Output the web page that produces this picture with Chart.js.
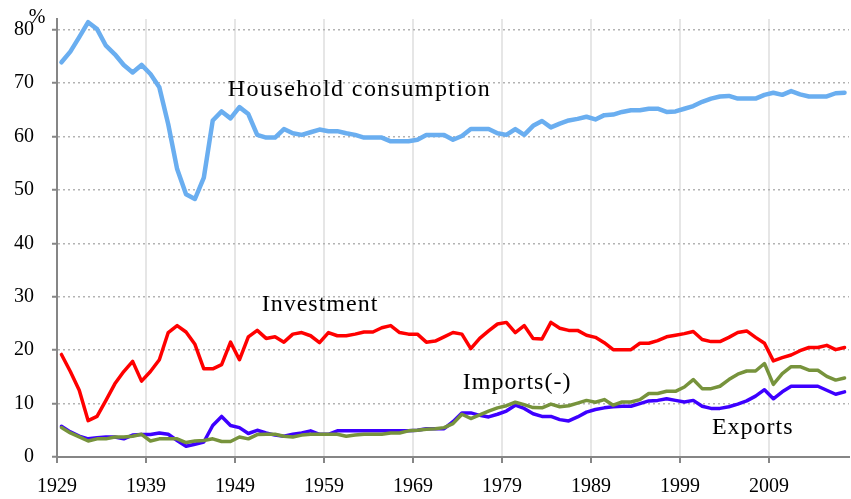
<!DOCTYPE html>
<html>
<head>
<meta charset="utf-8">
<script src="https://cdn.jsdelivr.net/npm/chart.js@4.4.1/dist/chart.umd.min.js"></script>
<style>
  html, body { margin: 0; padding: 0; background: #fff; }
  #wrap { width: 851px; height: 499px; position: relative; }
</style>
</head>
<body>
<div id="wrap"><canvas id="chart"></canvas></div>
<script>
// Years 1929..2017 (one value per year)
const years = Array.from({ length: 89 }, (_, i) => 1929 + i);
const tickYears = [1929, 1939, 1949, 1959, 1969, 1979, 1989, 1999, 2009];
const yTicks = [0, 10, 20, 30, 40, 50, 60, 70, 80];

// Shares of GDP, %
const household = [
  73.9, 75.9, 78.6, 81.4, 80.1, 77.0, 75.4, 73.4, 72.0, 73.4,
  71.7, 69.2, 62.3, 53.9, 49.2, 48.3, 52.3, 63.0, 64.7, 63.4,
  65.5, 64.2, 60.3, 59.8, 59.8, 61.4, 60.6, 60.3, 60.8, 61.3,
  61.0, 61.0, 60.6, 60.3, 59.8, 59.8, 59.8, 59.1, 59.1, 59.1,
  59.4, 60.3, 60.3, 60.3, 59.4, 60.1, 61.4, 61.4, 61.4, 60.6,
  60.3, 61.4, 60.3, 62.0, 62.9, 61.7, 62.4, 63.0, 63.3, 63.7,
  63.2, 64.0, 64.1, 64.6, 64.9, 64.9, 65.2, 65.2, 64.6, 64.7,
  65.2, 65.7, 66.5, 67.1, 67.5, 67.6, 67.1, 67.1, 67.1, 67.8,
  68.2, 67.8, 68.5, 67.9, 67.5, 67.5, 67.5, 68.1, 68.2
];
const investment = [
  19.2, 16.0, 12.5, 6.8, 7.6, 10.6, 13.7, 16.0, 17.9, 14.2,
  16.0, 18.2, 23.3, 24.6, 23.4, 21.1, 16.5, 16.5, 17.3, 21.5,
  18.2, 22.5, 23.7, 22.2, 22.5, 21.5, 23.0, 23.3, 22.7, 21.4,
  23.3, 22.7, 22.7, 23.0, 23.4, 23.4, 24.2, 24.6, 23.3, 23.0,
  23.0, 21.5, 21.7, 22.5, 23.3, 23.0, 20.3, 22.2, 23.6, 24.9,
  25.2, 23.3, 24.6, 22.2, 22.1, 25.2, 24.1, 23.7, 23.7, 22.8,
  22.4, 21.4, 20.1, 20.1, 20.1, 21.3, 21.3, 21.8, 22.5, 22.8,
  23.1, 23.5, 22.0, 21.6, 21.6, 22.4, 23.3, 23.6, 22.4, 21.3,
  18.0, 18.6, 19.1, 19.9, 20.5, 20.5, 20.9, 20.1, 20.5
];
const exportsShare = [
  5.75, 4.7, 3.9, 3.4, 3.6, 3.75, 3.75, 3.4, 4.1, 4.2,
  4.2, 4.5, 4.25, 3.1, 2.0, 2.4, 2.8, 5.9, 7.6, 5.9,
  5.5, 4.4, 5.0, 4.5, 4.1, 3.9, 4.25, 4.5, 4.9, 4.25,
  4.25, 4.9, 4.9, 4.9, 4.9, 4.9, 4.9, 4.9, 4.9, 4.9,
  5.0, 5.3, 5.3, 5.3, 6.6, 8.25, 8.25, 7.8, 7.5, 8.0,
  8.6, 9.7, 9.1, 8.1, 7.6, 7.6, 7.0, 6.75, 7.5, 8.4,
  8.9, 9.2, 9.4, 9.5, 9.5, 10.0, 10.5, 10.6, 10.9, 10.6,
  10.3, 10.6, 9.5, 9.1, 9.1, 9.4, 9.9, 10.5, 11.4, 12.6,
  10.9, 12.2, 13.25, 13.25, 13.25, 13.25, 12.5, 11.75, 12.2
];
const importsShare = [
  5.5, 4.5, 3.75, 3.0, 3.4, 3.4, 3.75, 3.75, 3.9, 4.25,
  3.0, 3.4, 3.4, 3.4, 2.7, 3.0, 3.1, 3.4, 2.9, 2.9,
  3.75, 3.4, 4.2, 4.25, 4.25, 3.9, 3.75, 4.1, 4.25, 4.25,
  4.25, 4.25, 3.9, 4.1, 4.25, 4.25, 4.25, 4.5, 4.5, 4.9,
  5.0, 5.2, 5.3, 5.5, 6.25, 8.0, 7.2, 7.9, 8.6, 9.2,
  9.6, 10.25, 9.8, 9.25, 9.2, 9.9, 9.4, 9.6, 10.1, 10.6,
  10.25, 10.75, 9.7, 10.3, 10.3, 10.75, 11.9, 11.9, 12.3, 12.3,
  13.1, 14.5, 12.8, 12.8, 13.25, 14.5, 15.5, 16.1, 16.1, 17.5,
  13.6, 15.6, 16.9, 16.9, 16.25, 16.25, 15.1, 14.4, 14.8
];

const seriesNames = ['Household consumption', 'Investment', 'Imports(-)', 'Exports'];

const SERIF = "'Liberation Serif', 'Times New Roman', serif";
const AXIS_GREY = '#868686';

// annual values sit mid-year, between the year ticks
const toPoints = vals => vals.map((v, i) => ({ x: years[i] + 0.5, y: v }));

// text labels placed next to their lines (anchored in data units)
const labelPlugin = {
  id: 'seriesLabels',
  afterDatasetsDraw(chart) {
    const { ctx, scales: { x, y } } = chart;
    const anchors = [
      { text: seriesNames[0], at: [1948.2, 68.8], ls: '1.4px' },
      { text: seriesNames[1], at: [1952.0, 28.5], ls: '1px' },
      { text: seriesNames[2], at: [1974.6, 14.0], ls: '1px' },
      { text: seriesNames[3], at: [2002.6, 5.4], ls: '1px' },
    ];
    ctx.save();
    ctx.fillStyle = '#000';
    ctx.textBaseline = 'middle';
    ctx.textAlign = 'left';
    ctx.font = '24px ' + SERIF;
    anchors.forEach(a => {
      if ('letterSpacing' in ctx) ctx.letterSpacing = a.ls;
      ctx.fillText(a.text, x.getPixelForValue(a.at[0]), y.getPixelForValue(a.at[1]));
    });
    if ('letterSpacing' in ctx) ctx.letterSpacing = '0px';
    ctx.font = '20px ' + SERIF;
    ctx.textAlign = 'center';
    ctx.fillText('%', 37, 18);
    ctx.restore();
  }
};

const lineStyle = (color, width) => ({
  borderColor: color,
  backgroundColor: color,
  borderWidth: width,
  pointRadius: 0,
  tension: 0,
  fill: false,
  borderJoinStyle: 'round',
  borderCapStyle: 'round',
});

new Chart(document.getElementById('chart').getContext('2d'), {
  type: 'line',
  data: {
    datasets: [
      { label: seriesNames[2], data: toPoints(importsShare), ...lineStyle('#77933c', 3.5) },
      { label: seriesNames[3], data: toPoints(exportsShare), ...lineStyle('#3d00ff', 3.5) },
      { label: seriesNames[1], data: toPoints(investment), ...lineStyle('#ff0000', 3.5) },
      { label: seriesNames[0], data: toPoints(household), ...lineStyle('#6aaef0', 4.5) },
    ]
  },
  options: {
    responsive: true,
    maintainAspectRatio: false,
    animation: false,
    layout: { padding: { left: 0, right: 2, top: 19, bottom: 0 } },
    plugins: {
      legend: { display: false },
      tooltip: { enabled: false },
    },
    scales: {
      x: {
        type: 'linear',
        min: 1929,
        max: 2018,
        afterBuildTicks: axis => { axis.ticks = tickYears.map(v => ({ value: v })); },
        afterFit: scale => {
          scale.height = 42;
          scale.paddingLeft = 0;
          scale.paddingRight = 0;
        },
        ticks: {
          autoSkip: false,
          maxRotation: 0,
          color: '#000',
          padding: 12,
          font: { family: SERIF, size: 20 },
          callback: v => String(v),
        },
        grid: {
          color: '#e6e6e6',
          lineWidth: 2,
          tickColor: AXIS_GREY,
          tickLength: 6,
          tickWidth: 2,
        },
        border: { display: true, color: AXIS_GREY, width: 2 },
      },
      y: {
        min: 0,
        max: 82,
        afterBuildTicks: axis => { axis.ticks = yTicks.map(v => ({ value: v })); },
        afterFit: scale => {
          // keep the plot top fixed; tick padding would otherwise push it down
          scale.width = 57;
          scale.paddingTop = 0;
          scale.paddingBottom = 0;
        },
        ticks: {
          color: '#000',
          padding: 18,
          font: { family: SERIF, size: 20 },
        },
        grid: {
          color: '#b3b3b3',
          lineWidth: 1.5,
          tickColor: AXIS_GREY,
          tickLength: 5,
          tickWidth: 2,
          tickBorderDash: [],
        },
        border: { display: true, color: AXIS_GREY, width: 2, dash: [2, 3] },
      }
    }
  },
  plugins: [labelPlugin]
});
</script>
</body>
</html>
